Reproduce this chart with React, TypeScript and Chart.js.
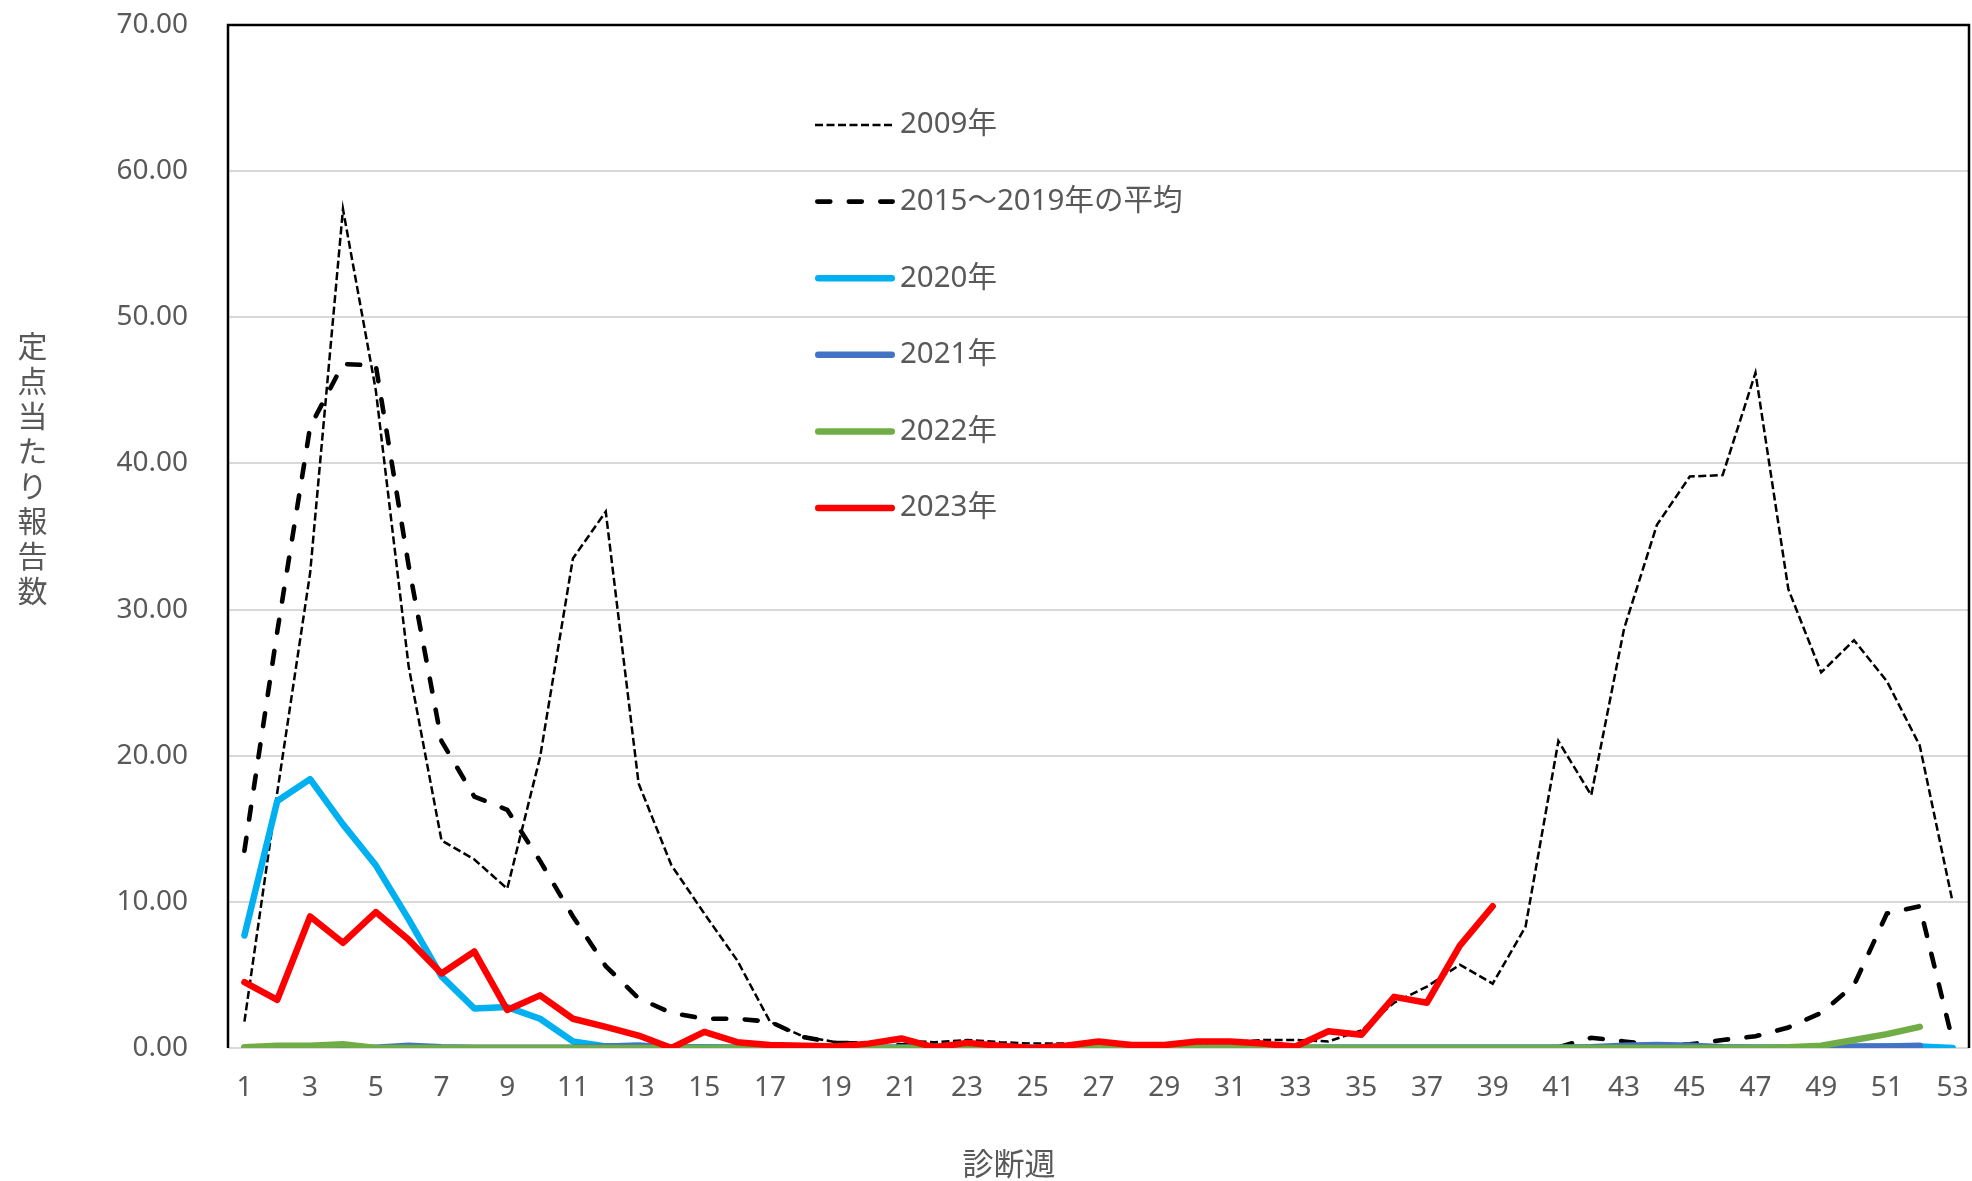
import React, { useEffect, useRef } from 'react';
import { Chart, registerables } from 'chart.js';

Chart.register(...registerables);

// ---- data ----
const weeks = [
  '1', '2', '3', '4', '5', '6', '7', '8', '9', '10',
  '11', '12', '13', '14', '15', '16', '17', '18', '19', '20',
  '21', '22', '23', '24', '25', '26', '27', '28', '29', '30',
  '31', '32', '33', '34', '35', '36', '37', '38', '39', '40',
  '41', '42', '43', '44', '45', '46', '47', '48', '49', '50',
  '51', '52', '53',
];

const yTickLabels = ['0.00', '10.00', '20.00', '30.00', '40.00', '50.00', '60.00', '70.00'];

const seriesLabels = ['2009年', '2015～2019年の平均', '2020年', '2021年', '2022年', '2023年'];

const v2009 = [
  1.8, 17.5, 32.5, 57.4, 45.0, 26.1, 14.2, 12.9, 10.9, 19.9,
  33.5, 36.7, 18.1, 12.5, 9.2, 6.0, 1.8, 0.8, 0.4, 0.4,
  0.5, 0.4, 0.55, 0.4, 0.3, 0.3, 0.3, 0.2, 0.2, 0.3,
  0.4, 0.55, 0.55, 0.45, 1.2, 3.1, 4.2, 5.7, 4.4, 8.3,
  21.0, 17.3, 28.7, 35.8, 39.1, 39.2, 46.2, 31.4, 25.7, 27.9,
  25.1, 20.7, 10.0,
];

const vAvg = [
  13.5, 28.5, 42.5, 46.8, 46.7, 33.0, 21.0, 17.2, 16.3, 12.8,
  9.0, 5.6, 3.4, 2.4, 2.0, 2.0, 1.8, 0.75, 0.35, 0.3,
  0.2, 0.15, 0.1, 0.05, 0.05, 0.05, 0.05, 0.05, 0.05, 0.05,
  0.05, 0.05, 0.05, 0.05, 0.05, 0.05, 0.05, 0.05, 0.05, 0.05,
  0.05, 0.7, 0.45, 0.2, 0.25, 0.55, 0.8, 1.4, 2.4, 4.3,
  9.2, 9.7, 0.5,
];

const v2020 = [
  7.7, 16.9, 18.4, 15.3, 12.5, 8.8, 4.9, 2.7, 2.8, 2.0,
  0.45, 0.1, 0.15, 0.05, 0.05, 0.02, 0.02, 0.02, 0.02, 0.02,
  0.02, 0.02, 0.02, 0.02, 0.02, 0.02, 0.02, 0.02, 0.02, 0.02,
  0.02, 0.02, 0.02, 0.02, 0.02, 0.02, 0.02, 0.02, 0.02, 0.02,
  0.02, 0.02, 0.05, 0.05, 0.05, 0.02, 0.02, 0.02, 0.02, 0.05,
  0.1, 0.1, 0.0,
];

const v2021 = [
  0.0, 0.0, 0.02, 0.05, 0.02, 0.15, 0.05, 0.02, 0.02, 0.02,
  0.02, 0.1, 0.15, 0.05, 0.02, 0.02, 0.02, 0.02, 0.02, 0.02,
  0.02, 0.02, 0.02, 0.02, 0.02, 0.02, 0.02, 0.02, 0.02, 0.02,
  0.02, 0.02, 0.02, 0.02, 0.02, 0.02, 0.02, 0.02, 0.02, 0.02,
  0.02, 0.05, 0.15, 0.2, 0.15, 0.05, 0.02, 0.02, 0.05, 0.1,
  0.1, 0.15, null,
];

const v2022 = [
  0.05, 0.15, 0.15, 0.25, 0.0, 0.0, 0.0, 0.0, 0.0, 0.0,
  0.0, 0.0, 0.0, 0.0, 0.0, 0.0, 0.0, 0.0, 0.0, 0.0,
  0.0, 0.0, 0.0, 0.0, 0.0, 0.0, 0.0, 0.0, 0.0, 0.0,
  0.0, 0.0, 0.0, 0.0, 0.0, 0.0, 0.0, 0.0, 0.0, 0.0,
  0.0, 0.0, 0.0, 0.0, 0.0, 0.0, 0.0, 0.05, 0.15, 0.55,
  0.95, 1.45, null,
];

const v2023 = [
  4.5, 3.3, 9.0, 7.2, 9.3, 7.4, 5.1, 6.6, 2.6, 3.6,
  2.0, 1.45, 0.85, 0.0, 1.1, 0.4, 0.2, 0.15, 0.1, 0.3,
  0.65, 0.05, 0.35, 0.15, 0.0, 0.15, 0.45, 0.2, 0.2, 0.45,
  0.45, 0.3, 0.1, 1.15, 0.9, 3.5, 3.1, 7.0, 9.7, null,
  null, null, null, null, null, null, null, null, null, null,
  null, null, null,
];

const xTitle = '診断週';
const yTitle = '定点当たり報告数';

const TEXT = '#595959';
const FONT = "'Noto Sans', 'Noto Sans CJK JP', sans-serif";
const CJK = "'Noto Sans CJK JP', 'Noto Sans', sans-serif";

const overlay = {
  id: 'overlay',
  beforeDatasetsDraw(chart: any) {
    const { ctx, chartArea: a } = chart;
    ctx.save();
    ctx.strokeStyle = '#000000';
    ctx.lineWidth = 2.5;
    ctx.beginPath();
    ctx.moveTo(a.left, a.bottom);
    ctx.lineTo(a.left, a.top);
    ctx.lineTo(a.right, a.top);
    ctx.lineTo(a.right, a.bottom);
    ctx.stroke();
    ctx.restore();
  },
  afterDraw(chart: any) {
    const { ctx, chartArea: a } = chart;
    ctx.save();
    // legend
    const lx = a.left + 587;
    const lw = 80;
    chart.data.datasets.forEach((ds: any, i: number) => {
      const y = a.top + 100 + i * 76.6;
      ctx.save();
      ctx.strokeStyle = ds.borderColor;
      ctx.lineWidth = ds.borderWidth;
      ctx.lineCap = ds.borderCapStyle || 'butt';
      ctx.setLineDash(ds.borderDash || []);
      ctx.beginPath();
      ctx.moveTo(lx + (ds.borderCapStyle === 'round' ? ds.borderWidth / 2 : 0), y);
      ctx.lineTo(lx + lw - (ds.borderCapStyle === 'round' ? ds.borderWidth / 2 : 0), y);
      ctx.stroke();
      ctx.restore();
      ctx.fillStyle = TEXT;
      ctx.font = `29.5px ${FONT}`;
      ctx.textAlign = 'left';
      ctx.textBaseline = 'middle';
      ctx.fillText(ds.label, lx + lw + 5, y);
    });
    // y title (vertical, upright)
    ctx.fillStyle = TEXT;
    ctx.font = `30px ${CJK}`;
    ctx.textAlign = 'center';
    ctx.textBaseline = 'middle';
    const chars = Array.from(yTitle);
    chars.forEach((c, i) => {
      ctx.fillText(c, 32.5, 346 + i * 35);
    });
    // x title
    ctx.font = `31px ${CJK}`;
    ctx.fillText(xTitle, 1009, 1163);
    ctx.restore();
  },
};

export default function App() {
  const ref = useRef<HTMLCanvasElement | null>(null);

  useEffect(() => {
    if (!ref.current) return;
    const solid = (label: string, data: any[], color: string) => ({
      label,
      data,
      borderColor: color,
      backgroundColor: color,
      borderWidth: 6.5,
      borderCapStyle: 'round',
      borderJoinStyle: 'round',
      pointRadius: 0,
      fill: false,
      tension: 0,
      spanGaps: false,
    });
    const chart = new Chart(ref.current, {
      type: 'line',
      data: {
        labels: weeks,
        datasets: [
          {
            label: seriesLabels[0],
            data: v2009,
            borderColor: '#000000',
            backgroundColor: '#000000',
            borderWidth: 2.5,
            borderDash: [8, 3.5],
            borderCapStyle: 'butt',
            pointRadius: 0,
            fill: false,
            order: 6,
          } as any,
          {
            label: seriesLabels[1],
            data: vAvg,
            borderColor: '#000000',
            backgroundColor: '#000000',
            borderWidth: 4.6,
            borderDash: [13, 18.5],
            borderCapStyle: 'round',
            pointRadius: 0,
            fill: false,
            order: 5,
          } as any,
          { ...solid(seriesLabels[2], v2020, '#00B0F0'), order: 4 } as any,
          { ...solid(seriesLabels[3], v2021, '#4472C4'), order: 3 } as any,
          { ...solid(seriesLabels[4], v2022, '#70AD47'), order: 2 } as any,
          { ...solid(seriesLabels[5], v2023, '#FF0000'), order: 1 } as any,
        ],
      },
      options: {
        responsive: false,
        animation: false,
        devicePixelRatio: 1,
        layout: { padding: { left: 0, right: 3, top: 25, bottom: 0 } },
        plugins: {
          legend: { display: false },
          tooltip: { enabled: false },
          title: { display: false },
        },
        scales: {
          x: {
            type: 'category',
            offset: true,
            grid: { display: false, drawTicks: false },
            border: { display: false },
            ticks: {
              autoSkip: false,
              maxRotation: 0,
              minRotation: 0,
              padding: 23,
              color: TEXT,
              font: { family: FONT, size: 28 },
              callback: (_v: any, i: number) => (i % 2 === 0 ? weeks[i] : ''),
            },
            afterFit: (s: any) => {
              s.height = 133;
              s.paddingLeft = 0;
              s.paddingRight = 0;
            },
          },
          y: {
            min: 0,
            max: 70,
            grid: { color: '#D9D9D9', lineWidth: 2, drawTicks: false },
            border: { display: false },
            ticks: {
              stepSize: 10,
              padding: 40,
              color: TEXT,
              font: { family: FONT, size: 28 },
              callback: (v: any) => yTickLabels[Math.round(Number(v) / 10)] ?? '',
            },
            afterFit: (s: any) => {
              s.width = 228;
              s.paddingTop = 0;
              s.paddingBottom = 0;
            },
          },
        },
      },
      plugins: [overlay],
    } as any);
    return () => chart.destroy();
  }, []);

  return (
    <div style={{ position: 'fixed', left: 0, top: 0, width: 1972, height: 1181, background: '#fff' }}>
      <canvas ref={ref} width={1972} height={1181} style={{ width: 1972, height: 1181, display: 'block' }} />
    </div>
  );
}
